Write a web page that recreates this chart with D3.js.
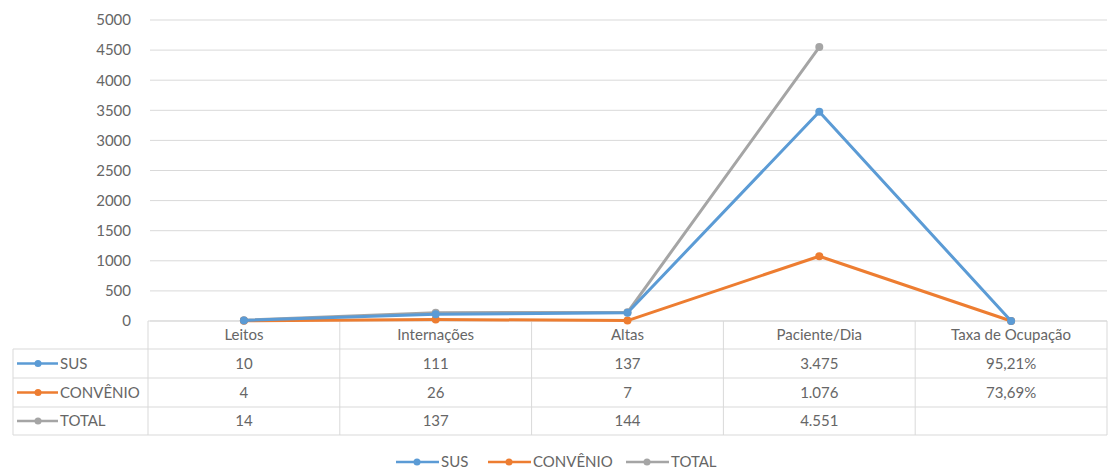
<!DOCTYPE html>
<html><head><meta charset="utf-8">
<script src="https://cdn.jsdelivr.net/npm/d3@7"></script>
<style>body{margin:0;background:#fff}svg{display:block}text{font-family:Lato,"Open Sans",sans-serif}</style>
</head><body>
<svg id="c" width="1110" height="470"></svg>
<script>
const categories = ["Leitos","Internações","Altas","Paciente/Dia","Taxa de Ocupação"];
const seriesNames = ["SUS","CONVÊNIO","TOTAL"];
const susValues = [10,111,137,3475,0.9521];
const convenioValues = [4,26,7,1076,0.7369];
const totalValues = [14,137,144,4551,null];
const susLabels = ["10","111","137","3.475","95,21%"];
const convenioLabels = ["4","26","7","1.076","73,69%"];
const totalLabels = ["14","137","144","4.551",""];
const yTicks = [0,500,1000,1500,2000,2500,3000,3500,4000,4500,5000];
const colors = ["#5B9BD5","#ED7D31","#A5A5A5"];

const series = [
  {name:seriesNames[0], values:susValues, labels:susLabels, color:colors[0]},
  {name:seriesNames[1], values:convenioValues, labels:convenioLabels, color:colors[1]},
  {name:seriesNames[2], values:totalValues, labels:totalLabels, color:colors[2]}
];

const svg = d3.select("#c");
const x = d3.scaleBand().domain(categories).range([148,1107]);
const y = d3.scaleLinear().domain([0,5000]).range([321,20]);
const txt = "#666666";
const fs = 15;

// gridlines
svg.append("g").selectAll("line").data(yTicks).join("line")
  .attr("x1",150).attr("x2",1107).attr("y1",d=>y(d)).attr("y2",d=>y(d))
  .attr("stroke","#d9d9d9").attr("stroke-width",1);

// y axis labels
const yAxis = d3.axisLeft(y).tickValues(yTicks).tickSize(0).tickPadding(0).tickFormat(d3.format("d"));
const ga = svg.append("g").attr("transform","translate(131,0)").call(yAxis);
ga.select(".domain").remove();
ga.selectAll("text").attr("font-size",fs).attr("fill",txt).style("font-family","Lato,sans-serif");

// table
const rowY = [321,349,378,407,435];
const tableLeft = 13;
const tg = svg.append("g");
const border = "#d9d9d9";
tg.append("line").attr("x1",148).attr("x2",1107).attr("y1",rowY[0]).attr("y2",rowY[0]).attr("stroke",border);
for (let i=1;i<rowY.length;i++){
  tg.append("line").attr("x1",tableLeft).attr("x2",1107).attr("y1",rowY[i]).attr("y2",rowY[i]).attr("stroke",border);
}
tg.append("line").attr("x1",tableLeft).attr("x2",tableLeft).attr("y1",rowY[1]).attr("y2",rowY[4]).attr("stroke",border);
categories.forEach(c=>{
  tg.append("line").attr("x1",x(c)).attr("x2",x(c)).attr("y1",rowY[0]).attr("y2",rowY[4]).attr("stroke",border);
});
tg.append("line").attr("x1",1107).attr("x2",1107).attr("y1",rowY[0]).attr("y2",rowY[4]).attr("stroke",border);

tg.selectAll("text.h").data(categories).join("text").attr("class","h")
  .attr("x",d=>x(d)+x.bandwidth()/2).attr("y",(rowY[0]+rowY[1])/2+5)
  .attr("text-anchor","middle").attr("font-size",fs).attr("fill",txt).text(d=>d);

series.forEach((s,i)=>{
  const cy = (rowY[i+1]+rowY[i+2])/2;
  tg.append("line").attr("x1",17).attr("x2",58).attr("y1",cy).attr("y2",cy).attr("stroke",s.color).attr("stroke-width",2.5);
  tg.append("circle").attr("cx",38).attr("cy",cy).attr("r",3.5).attr("fill",s.color);
  tg.append("text").attr("x",60).attr("y",cy+5).attr("font-size",fs).attr("fill",txt).text(s.name);
  tg.selectAll("text.v"+i).data(s.labels).join("text").attr("class","v"+i)
    .attr("x",(d,j)=>x(categories[j])+x.bandwidth()/2).attr("y",cy+5)
    .attr("text-anchor","middle").attr("font-size",fs).attr("fill",txt).text(d=>d);
});

// lines
const line = d3.line().defined(d=>d.v!==null).x(d=>x(d.c)+x.bandwidth()/2).y(d=>y(d.v));
[2,1,0].forEach(i=>{
  const s = series[i];
  const pts = categories.map((c,j)=>({c:c,v:s.values[j]}));
  svg.append("path").datum(pts).attr("d",line).attr("fill","none")
    .attr("stroke",s.color).attr("stroke-width",3).attr("stroke-linejoin","round");
  svg.append("g").selectAll("circle").data(pts.filter(d=>d.v!==null)).join("circle")
    .attr("cx",d=>x(d.c)+x.bandwidth()/2).attr("cy",d=>y(d.v)).attr("r",4).attr("fill",s.color);
});

// legend
const legendX = [396,488,626];
const ly = 462;
series.forEach((s,i)=>{
  const lx = legendX[i];
  svg.append("line").attr("x1",lx).attr("x2",lx+43).attr("y1",ly).attr("y2",ly).attr("stroke",s.color).attr("stroke-width",2.5);
  svg.append("circle").attr("cx",lx+21).attr("cy",ly).attr("r",3.5).attr("fill",s.color);
  svg.append("text").attr("x",lx+45).attr("y",ly+5).attr("font-size",fs).attr("fill",txt).text(s.name);
});
</script>
</body></html>
